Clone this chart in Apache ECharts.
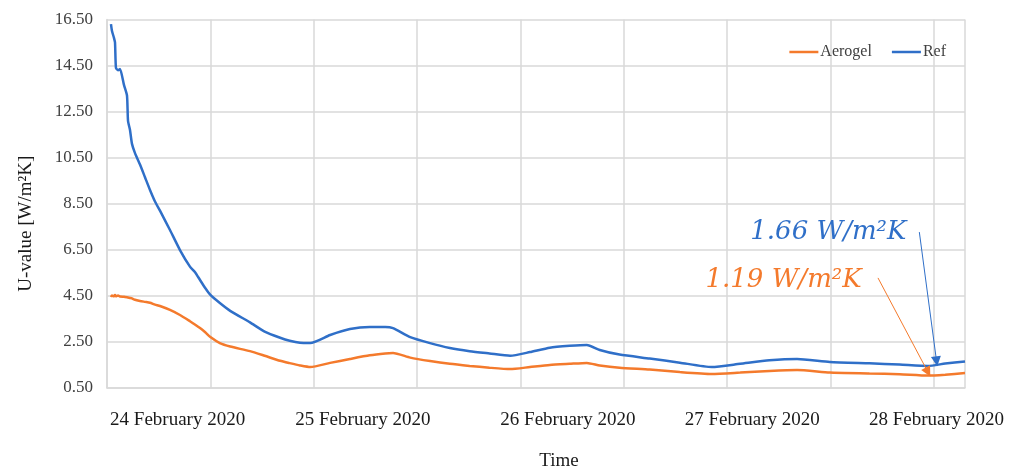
<!DOCTYPE html>
<html>
<head>
<meta charset="utf-8">
<script src="https://cdn.jsdelivr.net/npm/echarts@6/dist/echarts.min.js"></script>
<style>
  html, body { margin: 0; padding: 0; background: #ffffff; }
  #chart { width: 1020px; height: 468px; }
</style>
</head>
<body>
<div id="chart"></div>
<script>
// Hours elapsed since the start of the measurement
const hours = [
  0.46, 0.58, 0.81, 0.93, 1.04, 1.28, 1.51, 1.97, 2.32, 2.44, 2.67, 2.90, 3.25, 3.83,
  4.41, 4.99, 5.57, 6.15, 7.31, 8.47, 9.63, 10.2, 10.8, 11.4, 12.0, 13.1, 14.3, 16.6,
  18.3, 20.1, 21.2, 22.4, 23.6, 25.9, 28.2, 30.5, 32.3, 33.2, 35.2, 37.5, 39.8, 42.1,
  44.4, 46.8, 49.1, 51.4, 53.7, 55.7, 57.2, 59.5, 63.0, 66.5, 70.2, 73.5, 76.9, 80.1,
  83.9, 88.5, 92.0, 95.3, 97.3, 99.6
];

// U-value of the reference wall [W/m²K]
const refValues = [
  16.3, 16.0, 15.7, 15.5, 14.4, 14.3, 14.35, 13.66, 13.2, 12.1, 11.7, 11.1, 10.7, 10.2,
  9.65, 9.1, 8.6, 8.2, 7.36, 6.49, 5.77, 5.54, 5.19, 4.84, 4.54, 4.19, 3.85, 3.35,
  2.95, 2.68, 2.55, 2.46, 2.45, 2.8, 3.06, 3.15, 3.15, 3.1, 2.71, 2.45, 2.24, 2.1,
  2.0, 1.9, 2.06, 2.25, 2.33, 2.37, 2.15, 1.95, 1.78, 1.6, 1.41, 1.55, 1.7, 1.76,
  1.63, 1.57, 1.52, 1.46, 1.56, 1.65
];

// U-value of the aerogel-insulated wall [W/m²K]
const aerogelValues = [
  4.45, 4.52, 4.48, 4.54, 4.48, 4.52, 4.47, 4.46, 4.44, 4.43, 4.41, 4.39, 4.33, 4.28,
  4.24, 4.2, 4.12, 4.06, 3.89, 3.67, 3.4, 3.26, 3.1, 2.92, 2.71, 2.45, 2.3, 2.1,
  1.9, 1.68, 1.58, 1.48, 1.41, 1.59, 1.76, 1.92, 2.0, 2.02, 1.82, 1.67, 1.55, 1.46,
  1.38, 1.32, 1.41, 1.5, 1.55, 1.59, 1.48, 1.38, 1.3, 1.19, 1.11, 1.17, 1.24, 1.28,
  1.17, 1.13, 1.1, 1.04, 1.08, 1.15
];

// Date labels along the time axis and the hour each one sits at
const dateLabels = ['24 February 2020', '25 February 2020', '26 February 2020', '27 February 2020', '28 February 2020'];
const dateLabelHours = [8.2, 29.7, 53.5, 74.9, 96.3];

// Value axis ticks
const yMin = 0.5, yMax = 16.5, yStep = 2;
const xMax = 99.6, xStep = 12;

// Stated mean U-values, with where their callouts sit and where the arrows point
const refMean = 1.66, aerogelMean = 1.19;
const refCallout = { text: [92.8, 7.27], from: [94.3, 7.27], to: [96.3, refMean] };
const aerogelCallout = { text: [87.6, 5.19], from: [89.5, 5.28], to: [95.3, aerogelMean] };

const blue = '#2f6fc8';
const orange = '#f47a2c';
const gridGray = '#d9d9d9';
const serif = '"Liberation Serif", "Times New Roman", serif';

const pair = (xs, ys) => xs.map((x, i) => [x, ys[i]]);

function callout(c, value, color) {
  return {
    markPoint: {
      silent: true,
      symbol: 'circle',
      symbolSize: 0,
      data: [{ coord: c.text, value: value }],
      label: {
        show: true,
        position: 'left',
        distance: 0,
        formatter: () => value.toFixed(2) + ' W/m²K',
        color: color,
        fontFamily: '"DejaVu Serif", serif',
        fontStyle: 'italic',
        fontSize: 26
      }
    },
    markLine: {
      silent: true,
      symbol: ['none', 'triangle'],
      symbolSize: 10,
      label: { show: false },
      lineStyle: { color: color, width: 1, type: 'solid' },
      itemStyle: { color: color },
      emphasis: { disabled: true },
      data: [[{ coord: c.from }, { coord: c.to }]]
    }
  };
}

const chart = echarts.init(document.getElementById('chart'), null, { renderer: 'canvas' });

chart.setOption({
  animation: false,
  backgroundColor: '#ffffff',
  grid: { left: 107, right: 55, top: 19.5, bottom: 80, containLabel: false, outerBoundsMode: 'none' },
  legend: {
    right: 69,
    top: 39,
    icon: 'rect',
    itemWidth: 29,
    itemHeight: 2.5,
    itemGap: 20,
    data: ['Aerogel', 'Ref'],
    textStyle: { fontFamily: serif, fontSize: 16, color: '#404040', padding: [0, 0, 0, -3] }
  },
  xAxis: [
    {
      type: 'value',
      min: 0,
      max: xMax,
      interval: xStep,
      axisLine: { show: true, lineStyle: { color: gridGray, width: 1.5 } },
      axisTick: { show: false },
      axisLabel: { show: false },
      splitLine: { show: true, lineStyle: { color: gridGray, width: 1.5 } },
      name: 'Time',
      nameLocation: 'middle',
      nameGap: 64,
      nameTextStyle: { fontFamily: serif, fontSize: 19, color: '#1a1a1a', padding: [0, 0, 0, 46] }
    },
    {
      type: 'value',
      position: 'bottom',
      min: 0,
      max: xMax,
      axisLine: { show: false },
      axisTick: { show: false },
      splitLine: { show: false },
      axisLabel: {
        show: true,
        customValues: dateLabelHours,
        margin: 23,
        fontFamily: serif,
        fontSize: 19,
        color: '#1a1a1a',
        formatter: (v) => {
          const i = dateLabelHours.findIndex((h) => Math.abs(h - v) < 1e-6);
          return i >= 0 ? dateLabels[i] : '';
        }
      }
    }
  ],
  yAxis: {
    type: 'value',
    min: yMin,
    max: yMax,
    interval: yStep,
    axisLine: { show: true, lineStyle: { color: gridGray, width: 1.5 } },
    axisTick: { show: false },
    splitLine: { show: true, lineStyle: { color: gridGray, width: 1.5 } },
    axisLabel: {
      margin: 14,
      fontFamily: serif,
      fontSize: 17,
      color: '#404040',
      formatter: (v) => v.toFixed(2)
    },
    name: 'U-value [W/m²K]',
    nameLocation: 'middle',
    nameGap: 71,
    nameTextStyle: { fontFamily: serif, fontSize: 19, color: '#1a1a1a', padding: [0, 40, 0, 0] }
  },
  series: [
    Object.assign({
      name: 'Aerogel',
      type: 'line',
      xAxisIndex: 0,
      data: pair(hours, aerogelValues),
      symbol: 'none',
      smooth: 0.2,
      lineStyle: { color: orange, width: 2.5 },
      itemStyle: { color: orange },
      z: 3
    }, callout(aerogelCallout, aerogelMean, orange)),
    Object.assign({
      name: 'Ref',
      type: 'line',
      xAxisIndex: 0,
      data: pair(hours, refValues),
      symbol: 'none',
      smooth: 0.2,
      lineStyle: { color: blue, width: 2.5 },
      itemStyle: { color: blue },
      z: 4
    }, callout(refCallout, refMean, blue))
  ]
});
</script>
</body>
</html>
